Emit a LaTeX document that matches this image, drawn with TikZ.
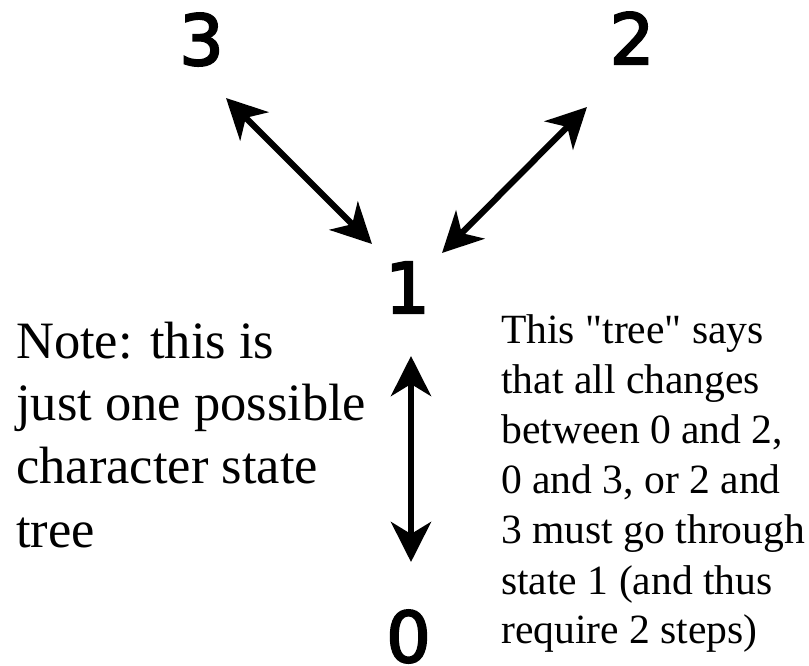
\documentclass[tikz,border=0pt]{standalone}
\usepackage{fontspec}
\setmainfont{Liberation Serif}
\newfontfamily\digitfont[FakeBold=3]{DejaVu Sans}
\usetikzlibrary{arrows.meta}
\tikzset{
  digit/.style={anchor=base, inner sep=0pt, font=\digitfont\fontsize{70}{84}\selectfont},
  notetext/.style={anchor=base west, inner sep=0pt, font=\fontsize{52.5}{63}\selectfont},
  sidetext/.style={anchor=base west, inner sep=0pt, font=\fontsize{41.6}{50}\selectfont},
  dbl/.style={line width=6.2pt, {Stealth[length=40pt,width=40pt,inset=12pt]}-{Stealth[length=40pt,width=40pt,inset=12pt]}}
}
\begin{document}
\begin{tikzpicture}[x=1pt,y=-1pt]
\useasboundingbox (0,0) rectangle (809,665);
% state nodes
\node[digit] (n3) at (201.5,65) {3};
\node[digit] (n2) at (632,64) {2};
\node[digit] (n1) at (407.5,313) {1};
\node[digit] (n0) at (408.5,662) {0};
% arrow end points
\coordinate (e3) at (226,98);
\coordinate (e13) at (372,244);
\coordinate (e2) at (587,107);
\coordinate (e12) at (442,253);
\coordinate (e10) at (411,356);
\coordinate (e0) at (411,562);
\draw[dbl] (e3) -- (e13);
\draw[dbl] (e2) -- (e12);
\draw[dbl] (e10) -- (e0);
% left note
\node[notetext] (l1) at (16,358) {Note: this is};
\node[notetext] (l2) at (16,420) {just one possible};
\node[notetext] (l3) at (16,483) {character state};
\node[notetext] (l4) at (16,547) {tree};
% right note
\node[sidetext] (r1) at (501,343) {This \textquotedbl tree\textquotedbl\ says};
\node[sidetext] (r2) at (501,393) {that all changes};
\node[sidetext] (r3) at (501,443) {between 0 and 2,};
\node[sidetext] (r4) at (501,493) {0 and 3, or 2 and};
\node[sidetext] (r5) at (501,543) {3 must go through};
\node[sidetext] (r6) at (501,594) {state 1 (and thus};
\node[sidetext] (r7) at (501,643) {require 2 steps)};
\end{tikzpicture}
\end{document}
